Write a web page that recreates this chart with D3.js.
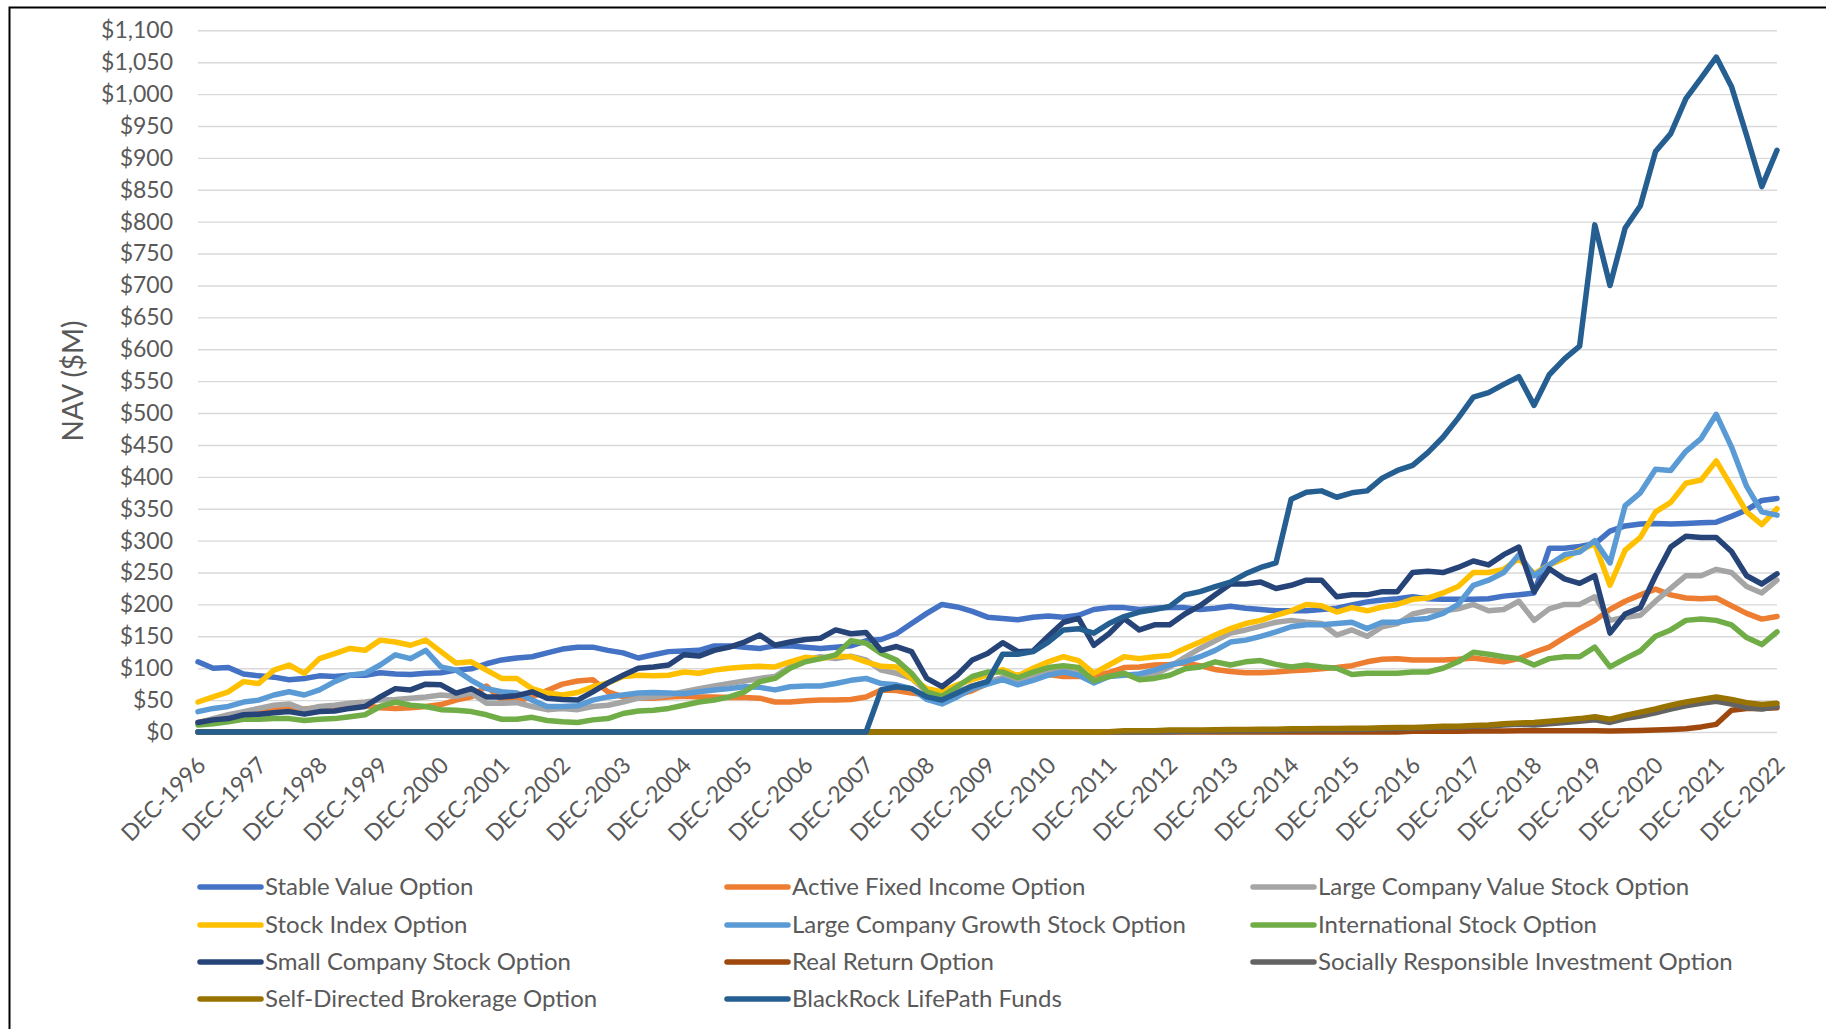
<!DOCTYPE html>
<html lang="en">
<head>
<meta charset="UTF-8">
<script src="https://d3js.org/d3.v7.min.js"></script>
<style>
  body { margin: 0; background: #fff; }
  text { font-family: Lato, "Open Sans", sans-serif; fill: #595959; }
</style>
</head>
<body>
<script>
  // monthly categories, DEC-1996 .. DEC-2022
  const MON = ["JAN","FEB","MAR","APR","MAY","JUN","JUL","AUG","SEP","OCT","NOV","DEC"];
  const months = [];
  for (let yr = 1996; yr <= 2022; yr++) {
    for (let m = 0; m < 12; m++) {
      if (yr === 1996 && m < 11) continue;
      months.push(MON[m] + "-" + yr);
    }
  }
  // values are read at quarter ends (every 3rd month)
  const quarters = months.filter((d, i) => i % 3 === 0);
  const tickLabels = months.filter((d, i) => i % 12 === 0);
  const yTicks = d3.range(0, 1101, 50);

  const stableValue = [110,100,101,91,88,86,82,84,88,87, 89,89,93,91,90,92,93,97,99,107,
    113,116,118,124,130,133,133,128,124,116, 121,126,127,128,135,135,133,131,135,135,
    133,131,133,135,143,145,154,170,186,200, 196,189,180,178,176,180,182,180,183,192,
    195,195,192,194,195,195,192,194,197,194, 192,190,190,190,192,194,199,204,207,209,
    212,209,208,208,208,209,213,215,218,288, 288,291,295,315,323,326,327,326,327,328,
    329,338,348,363,366];
  const activeFixed = [15,20,25,28,32,35,37,36,38,40, 40,41,38,37,38,40,43,50,55,72,
    50,48,55,65,75,80,82,63,55,53, 53,55,56,55,55,54,54,53,47,47,
    49,50,50,51,55,66,65,61,58,53, 58,65,76,85,89,91,90,87,87,89,
    93,101,102,105,106,108,104,98,95,93, 93,94,96,97,99,101,104,110,114,115,
    113,113,113,114,116,113,110,115,125,133, 148,162,175,192,205,215,224,215,210,209,
    210,198,186,177,181];
  const largeValue = [13,21,27,32,37,42,44,35,40,42, 45,47,50,51,53,55,58,56,61,45,
    45,46,40,35,37,35,40,42,47,53, 55,58,63,68,72,76,80,84,87,102,
    113,118,115,119,113,97,92,84,63,55, 63,72,79,85,79,87,94,97,92,78,
    87,91,84,90,102,117,131,143,155,160, 166,172,175,172,170,152,160,150,165,170,
    185,190,190,193,200,190,192,205,175,193, 200,200,212,175,180,183,205,225,245,245,
    255,250,228,218,238];
  const stockIndex = [47,55,63,79,76,97,105,92,115,123, 131,128,144,141,136,144,126,108,110,97,
    84,84,68,61,58,62,71,77,87,89, 88,89,94,92,97,100,102,103,102,110,
    117,115,119,118,110,103,102,84,68,63, 74,82,89,98,88,100,110,118,112,92,
    105,118,115,118,120,131,141,152,162,170, 175,183,190,200,198,188,195,190,196,200,
    208,210,218,228,250,250,255,272,248,262, 272,285,295,230,285,305,345,360,390,395,
    425,385,345,325,350];
  const largeGrowth = [32,37,40,47,50,58,63,58,66,79, 89,92,105,121,115,128,102,97,81,68,
    63,61,50,40,40,41,50,55,58,61, 62,61,60,63,66,68,71,70,66,71,
    72,72,76,81,84,76,74,68,51,44, 55,68,75,82,74,81,89,94,89,77,
    87,89,91,97,105,110,118,128,141,144, 150,157,165,168,168,170,172,162,172,172,
    176,178,186,200,230,238,250,278,245,262, 278,282,300,265,355,375,412,410,440,460,
    498,447,385,345,340];
  const international = [11,13,16,20,20,21,21,18,20,21, 24,27,40,47,42,40,35,34,32,27,
    20,20,23,18,16,15,19,21,29,33, 34,37,42,47,50,55,63,79,84,100,
    110,115,121,143,139,123,113,92,63,56, 71,87,94,94,85,94,101,104,101,80,
    87,92,82,84,89,99,102,110,105,110, 112,106,102,105,102,100,90,92,92,92,
    94,94,100,110,125,122,118,115,105,115, 118,118,133,102,115,127,150,160,175,177,
    175,168,148,137,157];
  const smallCompany = [15,19,21,27,28,30,32,28,32,33, 37,40,55,68,66,75,74,61,68,55,
    55,57,63,53,51,50,63,77,89,100, 102,105,121,119,128,133,141,152,136,141,
    145,147,160,154,156,128,134,126,84,71, 89,113,123,140,126,127,150,172,178,136,
    154,178,160,168,168,185,198,215,232,232, 235,225,230,238,238,212,215,215,220,220,
    250,252,250,258,268,262,278,290,220,256, 240,233,245,155,185,195,245,290,307,305,
    305,283,245,232,248];
  const realReturn = [0,0,0,0,0,0,0,0,0,0, 0,0,0,0,0,0,0,0,0,0,
    0,0,0,0,0,0,0,0,0,0, 0,0,0,0,0,0,0,0,0,0,
    0,0,0,0,0,0,0,0,0,0, 0,0,0,0,0,0,0,0,0,0,
    0,0,0,0,0,0,0,0,0,0, 0,0,0,0,0,0,0,0,0,0,
    1,1,1,1,1.5,1.5,1.5,2,2,2, 2,2,2,1.5,2,2.5,3,4,5,8,
    12,34,37,37,38];
  const sociallyResp = [0,0,0,0,0,0,0,0,0,0, 0,0,0,0,0,0,0,0,0,0,
    0,0,0,0,0,0,0,0,0,0, 0,0,0,0,0,0,0,0,0,0,
    0,0,0,0,0,0,0,0,0,0, 0,0,0,0,0,0,0,0,0,0,
    0,0,0,0,0.5,1,1,1.5,2,2, 2.5,2.5,3,3,3.5,3.5,4,4.5,5,5.5,
    6,7,7.5,8,9,9.5,11,12,11,13, 15,17,19,15,21,25,30,36,41,45,
    48,44,38,36,40];
  const selfDirected = [0,0,0,0,0,0,0,0,0,0, 0,0,0,0,0,0,0,0,0,0,
    0,0,0,0,0,0,0,0,0,0, 0,0,0,0,0,0,0,0,0,0,
    0,0,0,0,0,0,0,0,0,0, 0,0,0,0,0,0,0,0,0,0,
    0.5,2,2,2,3,3,3,3.5,4,4, 4.5,4.5,5,5,5.5,5.5,6,6,6.5,7,
    7,8,9,9,10,11,13,14,15,17, 19,21,24,20,26,31,36,42,47,51,
    55,51,46,43,45];
  const blackRock = [0,0,0,0,0,0,0,0,0,0, 0,0,0,0,0,0,0,0,0,0,
    0,0,0,0,0,0,0,0,0,0, 0,0,0,0,0,0,0,0,0,0,
    0,0,0,0,0,66,71,68,55,50, 61,72,79,122,122,126,141,160,162,155,
    170,181,188,192,197,215,220,228,235,248, 258,265,365,376,378,368,375,378,398,410,
    418,438,462,492,525,532,545,557,512,560, 585,605,795,700,790,825,910,938,993,1025,
    1058,1012,935,855,912];

  const series = [
    { name: "Stable Value Option", color: "#4472C4", values: stableValue },
    { name: "Active Fixed Income Option", color: "#ED7D31", values: activeFixed },
    { name: "Large Company Value Stock Option", color: "#A5A5A5", values: largeValue },
    { name: "Stock Index Option", color: "#FFC000", values: stockIndex },
    { name: "Large Company Growth Stock Option", color: "#5B9BD5", values: largeGrowth },
    { name: "International Stock Option", color: "#70AD47", values: international },
    { name: "Small Company Stock Option", color: "#264478", values: smallCompany },
    { name: "Real Return Option", color: "#9E480E", values: realReturn },
    { name: "Socially Responsible Investment Option", color: "#636363", values: sociallyResp },
    { name: "Self-Directed Brokerage Option", color: "#997300", values: selfDirected },
    { name: "BlackRock LifePath Funds", color: "#255E91", values: blackRock }
  ];

  const width = 1826, height = 1029;
  const plot = { left: 198, right: 1777, top: 30.3, bottom: 732 };

  const svg = d3.select("body").append("svg")
    .attr("width", width)
    .attr("height", height);

  svg.append("rect").attr("width", width).attr("height", height).attr("fill", "#fff");

  // frame (left and top edges only are visible)
  svg.append("path")
    .attr("d", `M9.5,${height} V7.5 H${width}`)
    .attr("fill", "none")
    .attr("stroke", "#000")
    .attr("stroke-width", 2);

  const x = d3.scalePoint().domain(months).range([plot.left, plot.right]);
  const y = d3.scaleLinear().domain([0, 1100]).range([plot.bottom, plot.top]);

  // y axis + gridlines
  const yAxis = svg.append("g")
    .attr("transform", `translate(${plot.left},0)`)
    .call(d3.axisLeft(y)
      .tickValues(yTicks)
      .tickSize(-(plot.right - plot.left))
      .tickPadding(25)
      .tickFormat(d => "$" + d3.format(",")(d)));
  yAxis.select(".domain").remove();
  yAxis.selectAll("line").attr("stroke", "#D9D9D9").attr("stroke-width", 1.4);
  yAxis.selectAll("text")
    .attr("font-size", 23)
    .attr("font-family", "Lato")
    .attr("fill", "#595959");

  // x axis
  const xAxis = svg.append("g")
    .attr("transform", `translate(0,${plot.bottom})`)
    .call(d3.axisBottom(x).tickValues(tickLabels).tickSize(0));
  xAxis.select(".domain").remove();
  xAxis.selectAll("text")
    .attr("font-size", 23)
    .attr("font-family", "Lato")
    .attr("fill", "#595959")
    .attr("text-anchor", "end")
    .attr("x", 0).attr("y", 0).attr("dy", "0.35em")
    .attr("transform", "translate(3,29) rotate(-45)");

  // y title
  svg.append("text")
    .attr("transform", "translate(73,381) rotate(-90)")
    .attr("text-anchor", "middle")
    .attr("dy", "0.35em")
    .attr("font-size", 28)
    .text("NAV ($M)");

  // lines
  const line = d3.line()
    .x((d, i) => x(quarters[i]))
    .y(d => y(d));

  svg.append("g").selectAll("path")
    .data(series)
    .join("path")
    .attr("d", d => line(d.values))
    .attr("fill", "none")
    .attr("stroke", d => d.color)
    .attr("stroke-width", 5.5)
    .attr("stroke-linejoin", "round")
    .attr("stroke-linecap", "round");

  // legend
  const colX = [200, 727, 1253];
  const rowY = [887, 925, 962, 999];
  const leg = svg.append("g").selectAll("g")
    .data(series)
    .join("g")
    .attr("transform", (d, i) => `translate(${colX[i % 3]},${rowY[Math.floor(i / 3)]})`);
  leg.append("line")
    .attr("x1", 0).attr("x2", 61)
    .attr("stroke", d => d.color)
    .attr("stroke-width", 5.5)
    .attr("stroke-linecap", "round");
  leg.append("text")
    .attr("x", 65)
    .attr("dy", "0.35em")
    .attr("font-size", 24)
    .text(d => d.name);
</script>
</body>
</html>
